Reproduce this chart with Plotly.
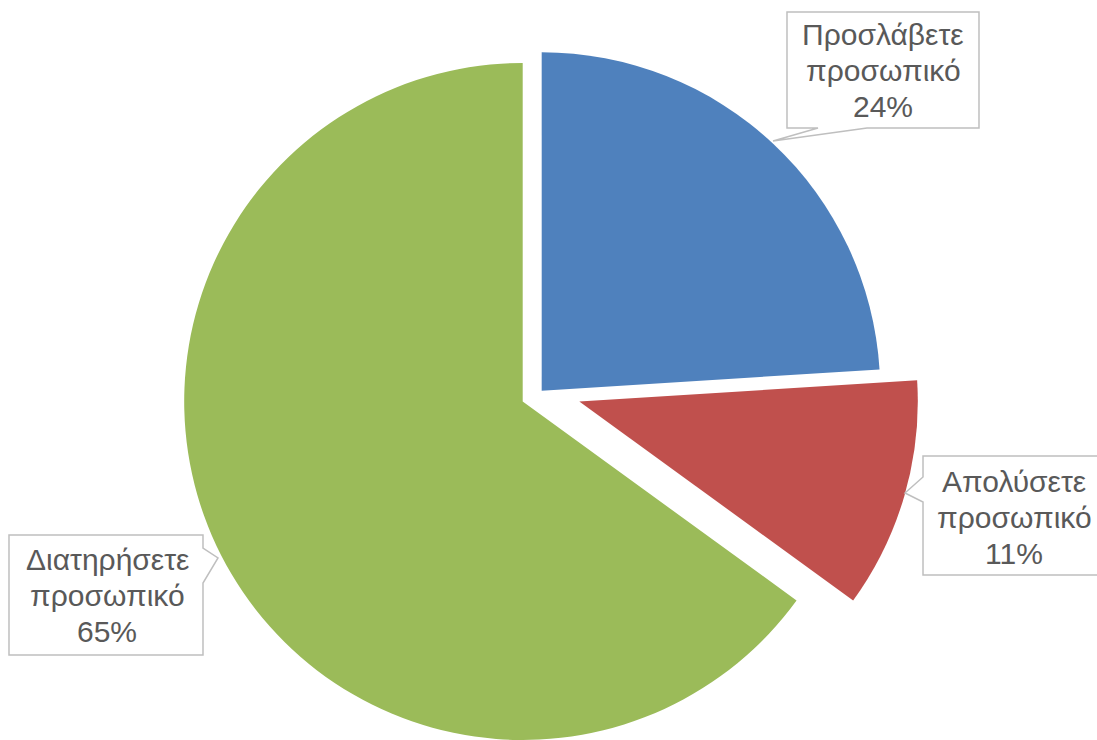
import plotly.graph_objects as go

# ---- data ----
labels = ["Προσλάβετε προσωπικό", "Απολύσετε προσωπικό", "Διατηρήσετε προσωπικό"]
label_lines = [["Προσλάβετε", "προσωπικό"], ["Απολύσετε", "προσωπικό"], ["Διατηρήσετε", "προσωπικό"]]
values = [24, 11, 65]
colors = ["#4F81BD", "#C0504D", "#9BBB59"]

W, H = 1097, 740
R = 338.5
# exploded slice centres (pixels) - layout only
centres = [(541.7, 390.7), (579.3, 401.5), (522.7, 401.5)]

def px(x):
    return x / W

def py(y):
    return 1 - y / H

fig = go.Figure()
for i, (cx, cy) in enumerate(centres):
    slice_colors = [colors[j] if j == i else "rgba(0,0,0,0)" for j in range(len(values))]
    fig.add_trace(go.Pie(
        labels=labels, values=values, sort=False, direction="clockwise", rotation=0,
        marker=dict(colors=slice_colors, line=dict(width=0)),
        textinfo="none", hoverinfo="skip", showlegend=False,
        domain=dict(x=[px(cx - R), px(cx + R)], y=[max(0, py(cy + R)), min(1, py(cy - R))]),
    ))

# callout boxes (pixel paths) - layout only
callouts = [
    [(787, 12), (979, 12), (979, 128), (867, 128), (773, 141), (818, 128), (787, 128)],
    [(923, 456), (1110, 456), (1110, 575), (923, 575), (923, 502), (905, 493), (923, 477)],
    [(9, 535), (203, 535), (203, 548), (218, 558), (203, 583), (203, 655), (9, 655)],
]
for pts in callouts:
    path = "M " + " L ".join(f"{px(x):.5f},{py(y):.5f}" for x, y in pts) + " Z"
    fig.add_shape(type="path", path=path, xref="paper", yref="paper",
                  line=dict(color="#BFBFBF", width=1.5), fillcolor="white", layer="above")

# label text: centre x and first-line centre y (pixels), line step
text_pos = [(883, 34.6), (1014, 481.6), (107, 559.6)]
line_step = 36
total = sum(values)
for i, (tx, ty) in enumerate(text_pos):
    pct = round(values[i] / total * 100)
    lines = label_lines[i] + [f"{pct}%"]
    for k, line in enumerate(lines):
        fig.add_annotation(x=px(tx), y=py(ty + k * line_step), xref="paper", yref="paper", text=line,
                           showarrow=False, xanchor="center", yanchor="middle", align="center",
                           font=dict(family="Liberation Sans, Arial, sans-serif", size=30, color="#595959"))

fig.update_layout(width=W, height=H, margin=dict(l=0, r=0, t=0, b=0),
                  paper_bgcolor="white", plot_bgcolor="white")
fig.write_html("out.html", config={"displayModeBar": False},
               post_script="document.body.style.margin='0';")
